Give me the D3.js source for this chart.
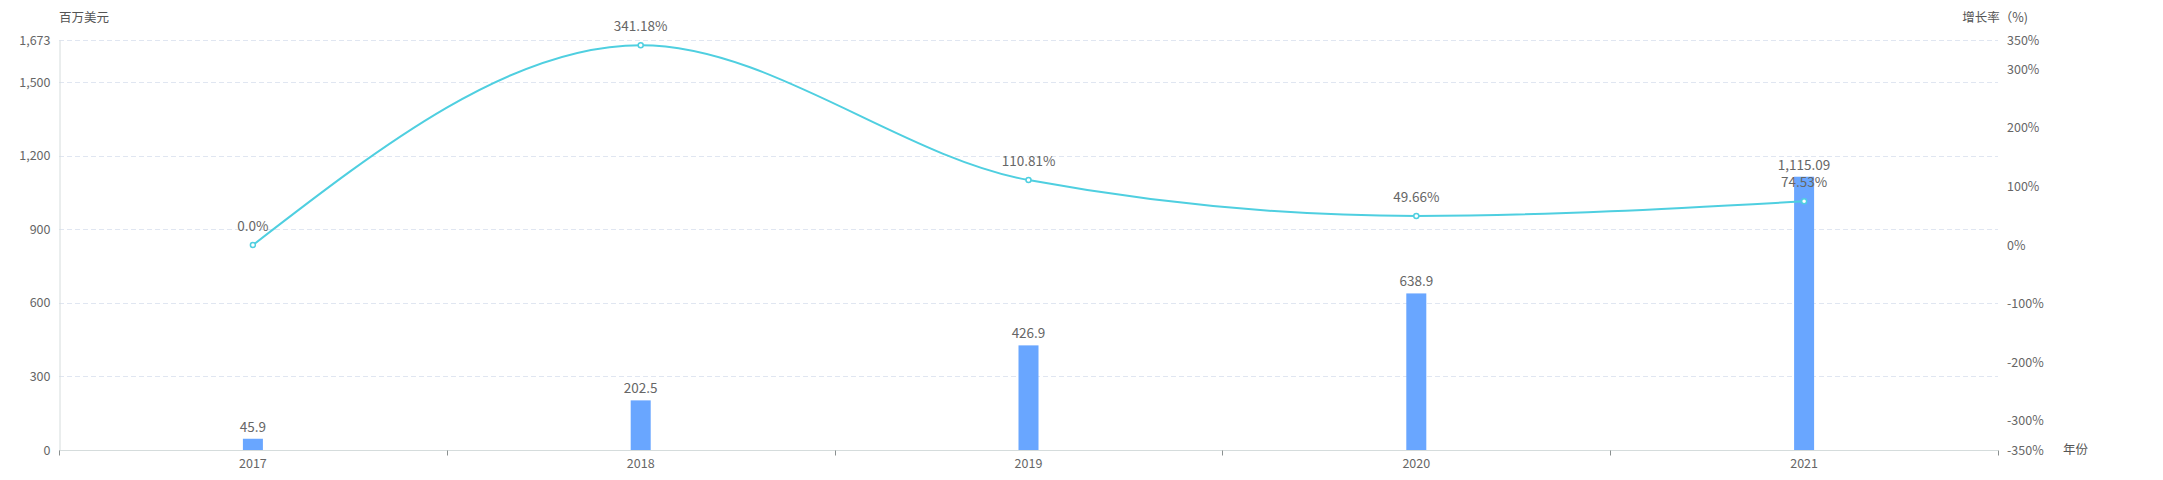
<!DOCTYPE html>
<html>
<head>
<meta charset="utf-8">
<script src="https://cdn.jsdelivr.net/npm/d3@7"></script>
<style>
  body { margin: 0; background: #fff; }
  svg text { font-family: "Noto Sans CJK SC", "Noto Sans", sans-serif; }
</style>
</head>
<body>
<div id="chart"></div>
<script>
const width = 2163
const height = 480
const margin = ({ top: 40, right: 165, bottom: 30, left: 59 });

// data
const years = ["2017", "2018", "2019", "2020", "2021"];
const amounts = [45.9, 202.5, 426.9, 638.9, 1115.09];
const amountLabels = ["45.9", "202.5", "426.9", "638.9", "1,115.09"];
const growth = [0.0, 341.18, 110.81, 49.66, 74.53];
const growthLabels = ["0.0%", "341.18%", "110.81%", "49.66%", "74.53%"];
const leftTicks = [0, 300, 600, 900, 1200, 1500, 1673];
const rightTicks = [-350, -300, -200, -100, 0, 100, 200, 300, 350];

const barColor = "#69a6ff";
const lineColor = "#4fcfe0";
const textColor = "#666";

const svg = d3.select("#chart")
  .append("svg")
  .attr("width", width)
  .attr("height", height);

let x = d3.scaleBand()
  .domain(years)
  .range([margin.left, width - margin.right]);

let y = d3.scaleLinear()
  .domain([0, 1673])
  .range([height - margin.bottom, margin.top]);

let y2 = d3.scaleLinear()
  .domain([-350, 350])
  .range([height - margin.bottom, margin.top]);

// grid lines
svg.append("g")
  .selectAll("line")
  .data(leftTicks.filter(d => d > 0))
  .join("line")
  .attr("x1", margin.left)
  .attr("x2", width - margin.right)
  .attr("y1", d => Math.round(y(d)) + 0.5)
  .attr("y2", d => Math.round(y(d)) + 0.5)
  .attr("stroke", "#e0e6f1")
  .attr("stroke-dasharray", "5,3");

// left axis
svg.append("g")
  .attr("transform", `translate(${margin.left + 0.5},0)`)
  .call(d3.axisLeft(y).tickValues(leftTicks).tickFormat(d3.format(",")).tickSize(0).tickPadding(9))
  .call(g => g.select(".domain").attr("stroke", "#d5dcdc"))
  .call(g => g.selectAll("text").attr("fill", textColor).attr("font-size", 12.5));

// right axis, no line
svg.append("g")
  .attr("transform", `translate(${width - margin.right},0)`)
  .call(d3.axisRight(y2).tickValues(rightTicks).tickFormat(d => d + "%").tickSize(0).tickPadding(9))
  .call(g => g.select(".domain").remove())
  .call(g => g.selectAll("text").attr("fill", textColor).attr("font-size", 12.5));

// bottom axis with ticks on band boundaries
const bottom = svg.append("g")
  .attr("transform", `translate(0,${height - margin.bottom + 0.5})`);
bottom.append("line")
  .attr("x1", margin.left)
  .attr("x2", width - margin.right)
  .attr("stroke", "#d5dcdc");
bottom.selectAll(".bt")
  .data(years.map(d => x(d)).concat([x.range()[1]]))
  .join("line")
  .attr("class", "bt")
  .attr("x1", d => Math.round(d) + 0.5)
  .attr("x2", d => Math.round(d) + 0.5)
  .attr("y1", 0)
  .attr("y2", 5)
  .attr("stroke", "#8a9090");
bottom.selectAll("text")
  .data(years)
  .join("text")
  .attr("x", d => x(d) + x.bandwidth() / 2)
  .attr("y", 17)
  .attr("text-anchor", "middle")
  .attr("fill", textColor)
  .attr("font-size", 12.5)
  .text(d => d);

// axis names
svg.append("text")
  .attr("x", margin.left)
  .attr("y", 22)
  .attr("fill", "#555")
  .attr("font-size", 12.5)
  .text("百万美元");
svg.append("text")
  .attr("x", 2028)
  .attr("y", 22)
  .attr("text-anchor", "end")
  .attr("fill", "#555")
  .attr("font-size", 12.5)
  .text("增长率（%)");
svg.append("text")
  .attr("x", 2063)
  .attr("y", 454)
  .attr("fill", "#555")
  .attr("font-size", 12.5)
  .text("年份");

// bars
const barW = 20;
svg.append("g")
  .selectAll("rect")
  .data(years)
  .join("rect")
  .attr("x", d => x(d) + x.bandwidth() / 2 - barW / 2)
  .attr("y", (d, i) => y(amounts[i]))
  .attr("width", barW)
  .attr("height", (d, i) => y(0) - y(amounts[i]))
  .attr("fill", barColor);

svg.append("g")
  .selectAll("text")
  .data(years)
  .join("text")
  .attr("x", d => x(d) + x.bandwidth() / 2)
  .attr("y", (d, i) => y(amounts[i]) - 7)
  .attr("text-anchor", "middle")
  .attr("fill", textColor)
  .attr("font-size", 13.5)
  .text((d, i) => amountLabels[i]);

// growth line
const line = d3.line()
  .x(d => x(d.year) + x.bandwidth() / 2)
  .y(d => y2(d.value))
  .curve(d3.curveMonotoneX);

const pts = years.map((d, i) => ({ year: d, value: growth[i], label: growthLabels[i] }));

svg.append("path")
  .datum(pts)
  .attr("d", line)
  .attr("fill", "none")
  .attr("stroke", lineColor)
  .attr("stroke-width", 2);

svg.append("g")
  .selectAll("circle")
  .data(pts)
  .join("circle")
  .attr("cx", d => x(d.year) + x.bandwidth() / 2)
  .attr("cy", d => y2(d.value))
  .attr("r", 2.5)
  .attr("fill", "#fff")
  .attr("stroke", lineColor)
  .attr("stroke-width", 1.5);

svg.append("g")
  .selectAll("text")
  .data(pts)
  .join("text")
  .attr("x", d => x(d.year) + x.bandwidth() / 2)
  .attr("y", d => y2(d.value) - 14)
  .attr("text-anchor", "middle")
  .attr("fill", textColor)
  .attr("font-size", 13.5)
  .text(d => d.label);
</script>
</body>
</html>
